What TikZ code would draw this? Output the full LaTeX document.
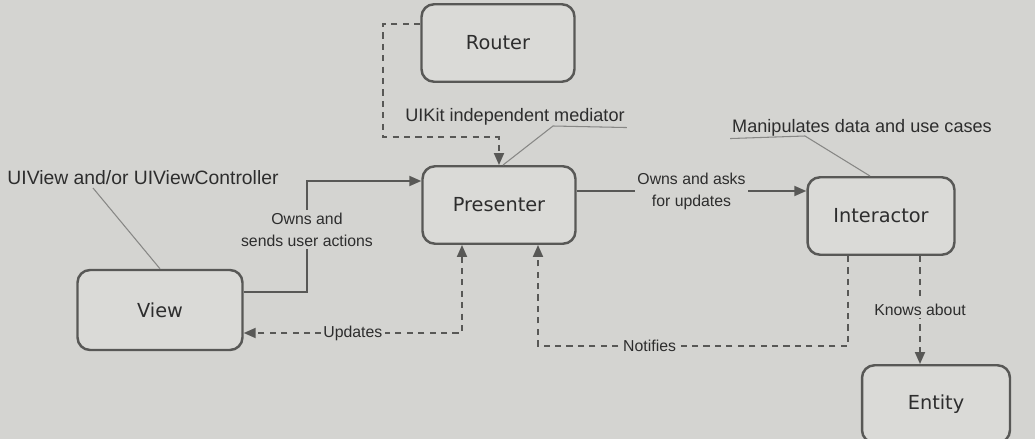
\documentclass[tikz,border=0pt]{standalone}
\usepackage{fontspec}
\setmainfont{Liberation Sans}
\newfontfamily\boxfont{DejaVu Sans}
\usetikzlibrary{arrows.meta}

\definecolor{paper}{RGB}{212,212,209}
\definecolor{boxfill}{RGB}{218,218,215}
\definecolor{boxline}{RGB}{88,88,86}
\definecolor{ink}{RGB}{45,45,45}
\definecolor{leadline}{RGB}{135,135,133}

\tikzset{
        box/.style={draw=boxline, line width=1.4pt, rounded corners=2.5mm, fill=boxfill,
                minimum width=3.06cm, minimum height=1.55cm, text=ink,
                font={\boxfont\fontsize{11pt}{13pt}\selectfont}},
        note/.style={text=ink, inner sep=1pt, font={\fontsize{10.3pt}{12pt}\selectfont}},
        lbl/.style={fill=paper, text=ink, inner sep=1.5pt, align=center,
                font={\fontsize{9pt}{12.5pt}\selectfont}},
        link/.style={draw=boxline, line width=1.1pt, -{Triangle[length=2.4mm,width=2mm]}},
        dlink/.style={link, dash pattern=on 3.5pt off 3pt},
        leader/.style={draw=leadline, line width=0.6pt}
}

\begin{document}
\begin{tikzpicture}[x=0.02cm, y=-0.02cm]
        \useasboundingbox (0,0) rectangle (1035,439);
        \fill[paper] (0,0) rectangle (1035,439);

        % the five parts
        \node[box] (router) at (498,43) {Router};
        \node[box] (presenter) at (499,205) {Presenter};
        \node[box, minimum width=2.94cm] (interactor) at (881,216) {Interactor};
        \node[box, minimum width=3.3cm, minimum height=1.6cm] (view) at (160,310) {View};
        \node[box, minimum width=2.96cm] (entity) at (936,404) {Entity};

        % notes
        \node[note] (mediator) at (515,117) {UIKit independent mediator};
        \node[note] (usecases) at (862,128) {Manipulates data and use cases};
        \node[note, font={\fontsize{11pt}{13pt}\selectfont}] (uiview) at (143,178) {UIView and/or UIViewController};

        \coordinate (medk) at (553,126);
        \coordinate (casek) at (805,136);
        \coordinate (viewk) at (93,188);
        \draw[leader] (mediator.south east) -- (medk) -- ([xshift=0.08cm]presenter.north);
        \draw[leader] (usecases.south west) -- (casek) -- ([xshift=-0.22cm]interactor.north);
        \draw[leader] (viewk) -- (view.north);

        % connectors
        \coordinate (vbend) at (307,181);
        \coordinate (ucorner) at (462,333);
        \coordinate (rbend) at (383,137);
        \coordinate (nright) at (848,346);
        \coordinate (nleft) at (538,346);
        \coordinate (kline) at (920,300);

        \draw[link] ([yshift=3.6mm]view.east) -| node[lbl, pos=0.78] {Owns and\\sends user actions} (vbend)
                -- (presenter.west |- vbend);
        \draw[dlink, {Triangle[length=2.4mm,width=2mm]}-{Triangle[length=2.4mm,width=2mm]}]
                (presenter.south -| ucorner) -- (ucorner) -- node[lbl] {Updates} (view.east |- ucorner);
        \draw[link] ([yshift=2.8mm]presenter.east) -- node[lbl] {Owns and asks\\for updates}
                ([yshift=2.8mm]presenter.east -| interactor.west);
        \draw[dlink] (interactor.south -| nright) -- (nright) -- node[lbl, pos=0.64] {Notifies} (nleft)
                -- (presenter.south -| nleft);
        \draw[dlink] (interactor.south -| kline) -- node[lbl] {Knows about} (entity.north -| kline);
        \draw[dlink] ([yshift=3.8mm]router.west) -| (rbend) -| (presenter.north);
\end{tikzpicture}
\end{document}
